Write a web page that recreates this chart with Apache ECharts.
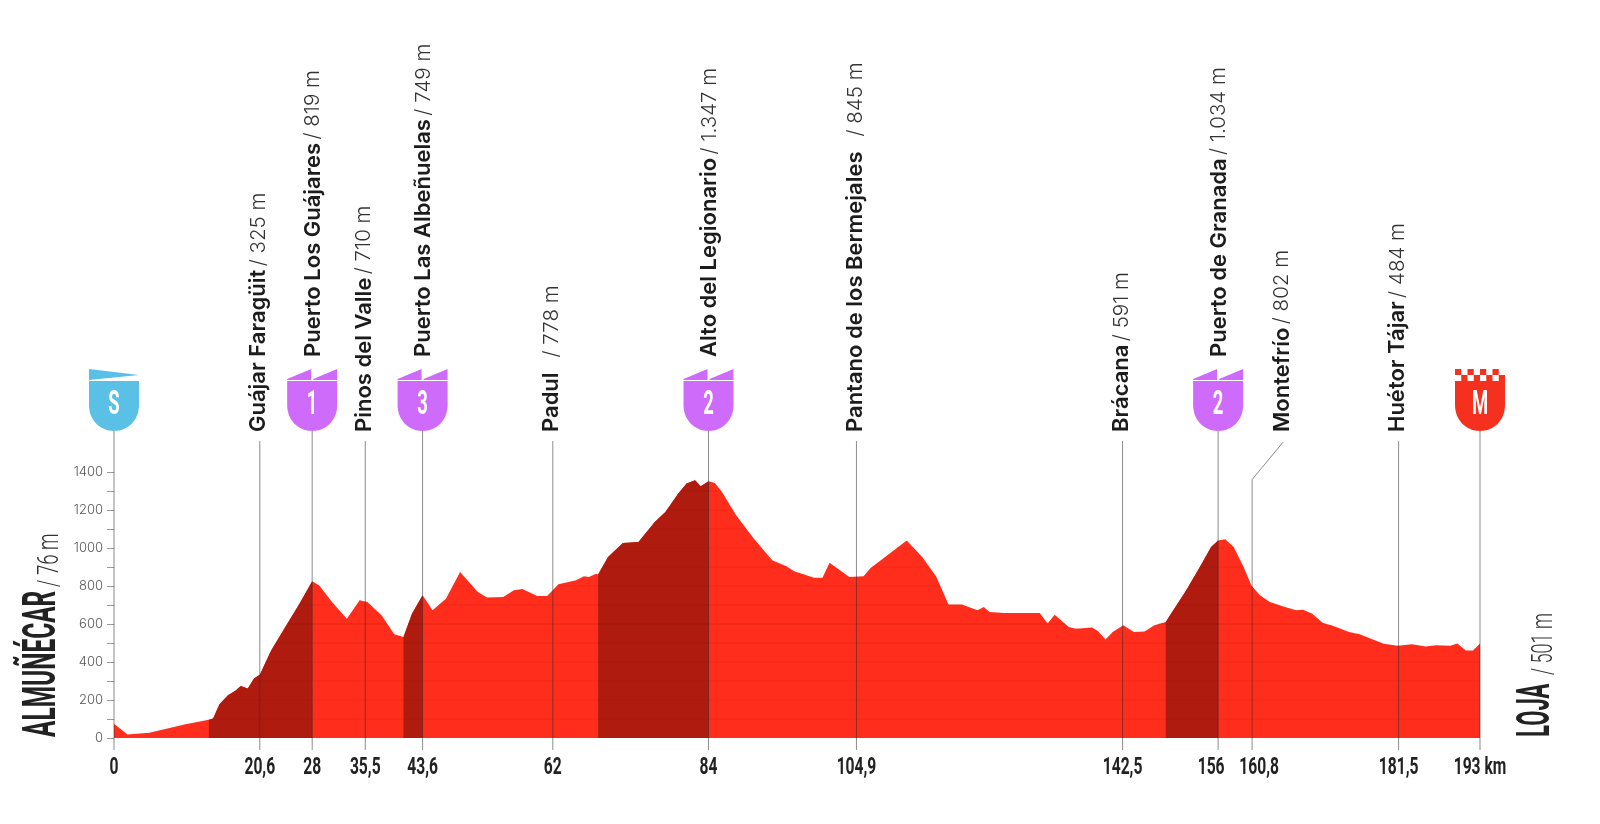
<!DOCTYPE html>
<html><head><meta charset="utf-8">
<style>html,body{margin:0;padding:0;background:#fff}#c{width:1600px;height:824px}</style>
<script src="https://cdn.jsdelivr.net/npm/echarts@6/dist/echarts.min.js"></script>
</head><body><div id="c"></div>
<script>
// Profile: [km, metres]
const profile = [[0,75],[1.9,19],[5,28],[10.1,72],[13.4,96],[14,102],[14.9,177],[16.1,225],[17.2,250],[17.9,274],[18.9,261],[19.8,314],[20.6,333],[22.2,461],[24.2,584],[26.2,707],[28,825],[29,803],[30.8,716],[32.9,628],[34.7,725],[35.8,716],[37.8,646],[39.6,546],[40.9,532],[42.1,654],[43.6,751],[45,672],[46.9,733],[48.9,874],[51.4,768],[52.7,739],[55,742],[56.5,777],[57.7,784],[59.8,747],[61.2,748],[62.8,809],[65.3,830],[66.4,851],[67.1,847],[68.1,865],[68.4,860],[69.8,953],[71.9,1026],[74.1,1032],[76.4,1137],[77.9,1189],[79.7,1286],[80.9,1339],[82.1,1356],[82.9,1325],[84,1351],[84.9,1342],[85.9,1295],[87.9,1172],[90.3,1054],[93,935],[95,904],[96.1,877],[98.9,844],[100.1,844],[101.1,923],[103.9,847],[105.9,851],[106.9,895],[110.2,988],[112,1040],[114.2,953],[116.2,847],[117.9,702],[119.8,702],[122,672],[122.9,689],[123.7,663],[125.8,658],[130.8,658],[131.9,602],[132.9,649],[134.9,584],[135.9,575],[138.2,581],[139,563],[140.1,518],[141.1,558],[142.6,593],[144.1,558],[145.6,561],[147,593],[148.6,610],[149.5,663],[151.5,777],[153.7,918],[155,1005],[156,1040],[157,1046],[158.2,1005],[159.6,900],[160.7,803],[161.9,751],[163.3,716],[165.1,693],[167,672],[168,675],[169.3,654],[170.8,605],[172,593],[174.5,558],[176,546],[179.4,496],[181.4,486],[183.4,493],[185.3,482],[186.8,488],[188.8,486],[189.8,498],[191,461],[192,461],[193,498]];
const climbs = [[13.4,28],[40.9,43.6],[68.4,84],[148.6,156]];

const stopKm    = [0,20.6,28,35.5,43.6,62,84,104.9,142.5,156,160.8,181.5,193];
const stopTicks = ['0','20,6','28','35,5','43,6','62','84','104,9','142,5','156','160,8','181,5','193 km'];
const placeKm    = [20.6,28,35.5,43.6,62,84,104.9,142.5,156,165.2,181.5];
const placeNames = ['Guájar Faragüit','Puerto Los Guájares','Pinos del Valle','Puerto Las Albeñuelas','Padul','Alto del Legionario','Pantano de los Bermejales','Brácana','Puerto de Granada','Montefrío','Huétor Tájar'];
const placeHeights = ['/ 325 m','/ 819 m','/ 710 m','/ 749 m','  / 778 m','/ 1.347 m','  / 845 m','/ 591 m','/ 1.034 m','/ 802 m','/ 484 m'];
const placeRaised  = [false,true,false,true,false,true,false,false,true,false,false];
const badgeKm     = [0,28,43.6,84,156,193];
const badgeLetter = ['S','1','3','2','2','M'];
const badgeKind   = ['start','climb','climb','climb','climb','finish'];
const yTicks  = [0,100,200,300,400,500,600,700,800,900,1000,1100,1200,1300,1400];
const yLabels = [0,200,400,600,800,1000,1200,1400];
const stripes = [100,200,300,400,500,600,700,800,900,1000,1100,1200,1300];

const RED='#ff2d1c', DARK='#af1c0f', PURPLE='#cf6bfb', BLUE='#5bc0e6', FIN='#f5301f';
const LINE='rgba(45,45,45,0.55)';
const kindColor={start:BLUE,climb:PURPLE,finish:FIN};

function runsAbove(level){
  const out=[];let start=null;
  for(let i=0;i<profile.length;i++){
    const [k,e]=profile[i];
    if(e>=level&&start===null){
      if(i===0)start=k;else{const [k0,e0]=profile[i-1];start=k0+(level-e0)/(e-e0)*(k-k0);}
    }
    if(start!==null&&(e<level||i===profile.length-1)){
      let end=k;
      if(e<level){const [k0,e0]=profile[i-1];end=k0+(level-e0)/(e-e0)*(k-k0);}
      out.push([start,end]);start=null;
    }
  }
  return out;
}
const stripeRuns=[];
stripes.forEach(l=>runsAbove(l).forEach(r=>stripeRuns.push([r[0],r[1],l])));

const series=[
 {type:'line',data:profile,symbol:'none',silent:true,lineStyle:{width:0},areaStyle:{color:RED,opacity:1},z:2},
 ...climbs.map(c=>({type:'line',data:profile.filter(p=>p[0]>=c[0]&&p[0]<=c[1]),symbol:'none',silent:true,lineStyle:{width:0},areaStyle:{color:DARK,opacity:1},z:3})),
 {type:'custom',silent:true,z:4,clip:false,data:stripeRuns,renderItem(p,api){
   const r=stripeRuns[p.dataIndex];const a=api.coord([r[0],r[2]]),b=api.coord([r[1],r[2]]);
   return {type:'line',shape:{x1:a[0],y1:a[1],x2:b[0],y2:b[1]},style:{stroke:r[2]===600?'rgba(90,0,0,0.17)':'rgba(90,0,0,0.08)',lineWidth:1}};
 }},
 {type:'custom',silent:true,z:5,clip:false,data:stopKm.map(k=>[k,0]),renderItem(p,api){
   const km=stopKm[p.dataIndex];const b=api.coord([km,0]);
   const hasBadge=badgeKm.includes(km);
   const top=b[1]-(hasBadge?307:297);
   let pts=[[b[0],b[1]+12],[b[0],top]];
   if(km===160.8){const t=api.coord([km,1360]),e=api.coord([165.2,1558]);pts=[[b[0],b[1]+12],t,e];}
   return {type:'polyline',shape:{points:pts},style:{stroke:LINE,lineWidth:1,fill:null}};
 }},
 {type:'custom',silent:true,z:6,clip:false,data:stopKm.map(k=>[k,0]),renderItem(p,api){
   const km=stopKm[p.dataIndex],b=api.coord([km,0]);
   const nudge=km===156?-7:km===160.8?7:0;
   return {type:'text',x:b[0]+nudge,y:b[1]+30,scaleX:0.65,style:{text:stopTicks[p.dataIndex],fontFamily:'Roboto',fontWeight:700,fontSize:24,fill:'#222',align:'center',verticalAlign:'middle'}};
 }},
 {type:'custom',silent:true,z:6,clip:false,data:placeKm.map(k=>[k,0]),renderItem(p,api){
   const i=p.dataIndex,b=api.coord([placeKm[i],0]);
   return {type:'text',x:b[0]+(placeRaised[i]?1:-1),y:b[1]-(placeRaised[i]?381:306),rotation:Math.PI/2,style:{
     text:'{n|'+placeNames[i]+'} {h|'+placeHeights[i]+'}',align:'left',verticalAlign:'middle',
     rich:{n:{fontFamily:'Inter',fontWeight:600,fontSize:22,fill:'#1c1c1c'},h:{fontFamily:'Inter',fontWeight:300,fontSize:20.5,fill:'#333'}}}};
 }},
 {type:'custom',silent:true,z:7,clip:false,data:badgeKm.map(k=>[k,0]),renderItem(p,api){
   const i=p.dataIndex,b=api.coord([badgeKm[i],0]),cx=b[0],by=b[1]-307,kind=badgeKind[i],col=kindColor[kind];
   const kids=[{type:'path',shape:{pathData:'M0 0H50V24C50 39 39 50 25 50C11 50 0 39 0 24Z',x:cx-25,y:by-50,width:50,height:50,layout:'cover'},style:{fill:col}}];
   const t=by-62;
   if(kind==='climb'){
     kids.push({type:'polygon',shape:{points:[[cx-25,t+10],[cx-1,t],[cx-1,t+11],[cx-25,t+11]]},style:{fill:col}});
     kids.push({type:'polygon',shape:{points:[[cx+1,t+10],[cx+25,t],[cx+25,t+11],[cx+1,t+11]]},style:{fill:col}});
   }else if(kind==='start'){
     kids.push({type:'polygon',shape:{points:[[cx-25,t],[cx+25,t+6],[cx-25,t+11]]},style:{fill:col}});
   }else{
     for(let r=0;r<2;r++)for(let c=0;c<8;c++)if((r+c)%2===0){
       kids.push({type:'rect',shape:{x:cx-25+c*6.25,y:t+r*6,width:6.25,height:6},style:{fill:col}});
     }
   }
   kids.push({type:'text',x:cx,y:by-25,scaleX:0.56,style:{text:badgeLetter[i],fontFamily:'Roboto',fontWeight:700,fontSize:33,fill:'#fff',align:'center',verticalAlign:'middle'}});
   return {type:'group',children:kids};
 }}
];

const option={
 animation:false,backgroundColor:'#fff',
 grid:{left:114,right:120,top:434,bottom:86},
 xAxis:{type:'value',min:0,max:193,show:false},
 yAxis:{type:'value',min:0,max:1600,interval:100,splitLine:{show:false},axisLine:{show:false},
   axisTick:{show:true,length:7,lineStyle:{color:'#999'},customValues:yTicks},
   axisLabel:{customValues:yLabels,formatter:v=>String(v),color:'#555',fontFamily:'Inter',fontWeight:300,fontSize:13,margin:11}},
 graphic:[
  {type:'text',x:43,y:737,rotation:Math.PI/2,scaleX:0.52,z:8,style:{text:'ALMUÑÉCAR',fontFamily:'Roboto',fontWeight:700,fontSize:47,fill:'#222',align:'left',verticalAlign:'middle'}},
  {type:'text',x:50,y:587,rotation:Math.PI/2,scaleX:0.62,z:8,style:{text:'/ 76 m',fontFamily:'Roboto',fontWeight:300,fontSize:30,fill:'#333',align:'left',verticalAlign:'middle'}},
  {type:'text',x:1537,y:737,rotation:Math.PI/2,scaleX:0.47,z:8,style:{text:'LOJA',fontFamily:'Roboto',fontWeight:700,fontSize:47,fill:'#222',align:'left',verticalAlign:'middle'}},
  {type:'text',x:1544,y:675,rotation:Math.PI/2,scaleX:0.6,z:8,style:{text:'/ 501 m',fontFamily:'Roboto',fontWeight:300,fontSize:30,fill:'#333',align:'left',verticalAlign:'middle'}}
 ],
 series
};
echarts.init(document.getElementById('c'),null,{renderer:'canvas'}).setOption(option);
</script></body></html>
